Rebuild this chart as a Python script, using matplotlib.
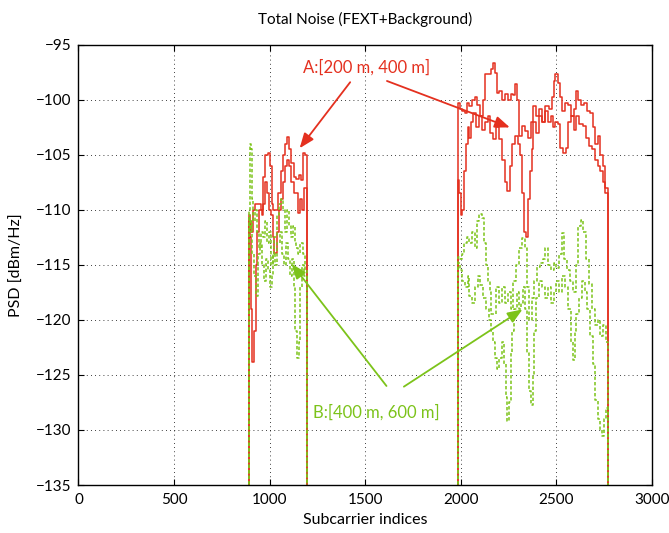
import matplotlib
matplotlib.use("Agg")
import matplotlib.pyplot as plt

plt.rcParams["font.family"] = ["Lato", "DejaVu Sans"]

# band edges (subcarrier indices)
band_edges = [(892, 1195), (1985, 2770)]

# A: [200 m, 400 m] -- two red curves per band
red_hi_b1_x = [892, 898, 905, 915, 925, 940, 955, 965, 975, 990, 1000, 1010, 1020, 1035, 1045,
               1060, 1070, 1080, 1090, 1100, 1110, 1125, 1140, 1155, 1165, 1175, 1185]
red_hi_b1_y = [-110.5, -111, -112, -110, -109.5, -109.5, -110, -107, -105, -104.8, -106, -109.5, -110,
               -110, -108.5, -106.5, -105, -104, -103.4, -104.5, -105.7, -107, -107.2, -106.8, -107.3,
               -104.8, -105]
red_lo_b1_x = [892, 897, 903, 910, 920, 928, 935, 945, 958, 965, 975, 985, 995, 1005, 1015, 1025,
               1038, 1048, 1058, 1068, 1080, 1090, 1100, 1110, 1125, 1140, 1150, 1160, 1170, 1180]
red_lo_b1_y = [-111, -112.5, -119, -123.8, -121, -115, -112, -110, -110.5, -109.5, -107.5, -108.5, -110,
               -110.5, -112.5, -113.9, -112, -110, -109, -107.5, -106, -105.5, -106, -107.5, -108.5,
               -108.5, -110.3, -109, -110, -108]
red_hi_b2_x = [1985, 1995, 2005, 2020, 2030, 2045, 2060, 2075, 2085, 2100, 2115, 2125, 2145, 2160, 2170,
               2180, 2190, 2200, 2215, 2230, 2245, 2260, 2275, 2285, 2295, 2305, 2320, 2335, 2350, 2365,
               2380, 2395, 2410, 2425, 2440, 2460, 2475, 2485, 2495, 2510, 2520, 2530, 2545, 2560, 2575,
               2590, 2600, 2615, 2630, 2645, 2660, 2675, 2690, 2700, 2715, 2730, 2745, 2755]
red_hi_b2_y = [-100.3, -100.8, -101, -101.2, -100.3, -100.6, -100, -99.7, -100.5, -101.5, -100, -97.7,
               -97.7, -97.2, -96.7, -97.6, -99.4, -99.2, -100, -99.5, -100, -99.5, -99.6, -98.6, -100,
               -103.3, -102.4, -102.8, -103.5, -102, -100.6, -101.5, -100.8, -102, -100.6, -100.8, -99.7,
               -98.3, -97.7, -98.5, -99.7, -101, -100.3, -100.5, -101.5, -100.8, -99.2, -100, -100.5,
               -100.3, -101, -101.2, -102.5, -104, -103.3, -105, -106, -108]
red_lo_b2_x = [1985, 1992, 2000, 2008, 2015, 2025, 2035, 2045, 2055, 2065, 2080, 2095, 2110, 2125, 2140,
               2155, 2170, 2185, 2200, 2215, 2230, 2242, 2255, 2270, 2285, 2300, 2310, 2320, 2330, 2340,
               2350, 2360, 2370, 2380, 2395, 2410, 2425, 2440, 2455, 2470, 2480, 2495, 2510, 2520, 2535,
               2550, 2560, 2575, 2590, 2605, 2620, 2640, 2655, 2670, 2685, 2700, 2715, 2730, 2745, 2755]
red_lo_b2_y = [-107.3, -108.5, -110.5, -110, -106.5, -104, -102.5, -103.5, -102, -101.2, -102.5, -101.5,
               -102.7, -102, -101.5, -103, -103.6, -102.5, -103.6, -105.5, -107.5, -108.3, -106, -104,
               -103.3, -104, -105, -108.5, -112, -112.5, -109, -106.5, -104.5, -102, -103, -101.5, -102,
               -101, -102, -101.5, -102.5, -102, -102.2, -104.4, -104.8, -104.4, -102, -101.5, -102.7,
               -101.5, -102.2, -102.4, -103.5, -104.2, -104.5, -105.5, -106, -106.5, -107.5, -108.5]

# B: [400 m, 600 m] -- two green curves per band
green_hi_b1_x = [892, 895, 902, 908, 915, 925, 935, 945, 955, 965, 975, 985, 995, 1005, 1015, 1025,
                 1040, 1050, 1060, 1070, 1080, 1090, 1100, 1110, 1120, 1130, 1140, 1150, 1160, 1175, 1185]
green_hi_b1_y = [-110, -104, -104.5, -109, -111, -110, -112, -113.5, -112, -112.5, -111, -113, -112,
                 -115, -114, -112.5, -110.5, -109.5, -109, -110, -112, -110, -111.5, -112.5, -111.5,
                 -113, -113.5, -114, -113, -114, -115.5]
green_lo_b1_x = [892, 897, 903, 910, 920, 930, 940, 950, 960, 970, 980, 990, 1000, 1010, 1020, 1030,
                 1040, 1055, 1065, 1075, 1085, 1095, 1105, 1115, 1125, 1135, 1145, 1152, 1160, 1170, 1180]
green_lo_b1_y = [-110.5, -112, -111, -114, -116, -117.8, -114, -113, -115, -116.5, -114.5, -115.5, -117,
                 -116, -114, -115, -113, -112, -114, -115, -113, -114.5, -116, -114.5, -117, -121,
                 -123.5, -122, -117, -115, -116]
green_hi_b2_x = [1985, 1995, 2005, 2015, 2030, 2045, 2060, 2075, 2085, 2095, 2110, 2120, 2130, 2140,
                 2150, 2160, 2170, 2185, 2200, 2215, 2230, 2245, 2260, 2275, 2290, 2305, 2320, 2335,
                 2345, 2355, 2370, 2385, 2400, 2415, 2430, 2440, 2455, 2470, 2485, 2500, 2515, 2528,
                 2540, 2555, 2570, 2585, 2600, 2615, 2627, 2640, 2655, 2670, 2685, 2700, 2715, 2730,
                 2745, 2760]
green_hi_b2_y = [-114.3, -114.5, -114, -113, -112.5, -113, -112, -113.5, -111, -110.4, -110.7, -113,
                 -115, -116.5, -117.5, -119.5, -119.5, -117, -118.5, -117, -118.5, -117.5, -119, -116.5,
                 -115, -113.5, -112.6, -113.5, -117, -120, -118, -116.5, -115.2, -114.8, -114.5, -113.5,
                 -115, -115.5, -114.8, -115.3, -114, -112.1, -114.5, -115.5, -116.5, -117.5, -115,
                 -111.5, -110.9, -112, -114.5, -116.7, -119, -120.5, -120, -121.5, -120.5, -122]
green_lo_b2_x = [1985, 1995, 2005, 2020, 2035, 2045, 2060, 2075, 2090, 2100, 2115, 2130, 2145, 2160,
                 2170, 2180, 2190, 2200, 2215, 2225, 2235, 2243, 2250, 2260, 2270, 2280, 2295, 2305,
                 2315, 2325, 2335, 2345, 2355, 2365, 2375, 2385, 2395, 2410, 2425, 2440, 2455, 2470,
                 2485, 2500, 2515, 2530, 2545, 2560, 2575, 2585, 2595, 2605, 2620, 2635, 2650, 2660,
                 2675, 2690, 2702, 2715, 2730, 2740, 2750, 2760]
green_lo_b2_y = [-114.8, -115.5, -116.5, -117, -116, -117.8, -118.5, -117, -116, -116.8, -118, -119,
                 -120, -121, -122, -123.5, -124.5, -123.5, -122, -124, -127, -129.2, -127.5, -123,
                 -121, -119, -117.5, -119, -118.5, -117, -119, -123, -126.5, -127.7, -125, -121, -118,
                 -116.5, -117, -118, -117, -118.5, -117.5, -116.5, -117.5, -116, -117, -119, -122,
                 -123.6, -121, -119.5, -118, -116.5, -117.5, -119, -121.5, -124, -127.3, -129, -130,
                 -130.5, -129, -128]

RED = "#e4301f"
GREEN = "#7cc31a"
FLOOR = -300.0


def band_trace(xs, ys, x_end):
    # step trace that rises from the floor at the band start and drops at its end
    tx = [xs[0]] + list(xs) + [x_end, x_end]
    ty = [FLOOR] + list(ys) + [ys[-1], FLOOR]
    return tx, ty


fig = plt.figure(figsize=(6.69, 5.33), dpi=100)
ax = fig.add_axes([0.1173, 0.090, 0.8573, 0.826])

red_series = [
    (red_hi_b1_x, red_hi_b1_y, band_edges[0][1]),
    (red_lo_b1_x, red_lo_b1_y, band_edges[0][1]),
    (red_hi_b2_x, red_hi_b2_y, band_edges[1][1]),
    (red_lo_b2_x, red_lo_b2_y, band_edges[1][1]),
]
green_series = [
    (green_hi_b1_x, green_hi_b1_y, band_edges[0][1]),
    (green_lo_b1_x, green_lo_b1_y, band_edges[0][1]),
    (green_hi_b2_x, green_hi_b2_y, band_edges[1][1]),
    (green_lo_b2_x, green_lo_b2_y, band_edges[1][1]),
]
for xs, ys, x_end in red_series:
    tx, ty = band_trace(xs, ys, x_end)
    ax.plot(tx, ty, color=RED, lw=1.1, drawstyle="steps-post")
for xs, ys, x_end in green_series:
    tx, ty = band_trace(xs, ys, x_end)
    ax.plot(tx, ty, color=GREEN, lw=1.1, ls=(0, (2.2, 1.4)), drawstyle="steps-post")

ax.set_xlim(0, 3000)
ax.set_ylim(-135, -95)
ax.set_xticks(range(0, 3001, 500))
ax.set_yticks(range(-135, -94, 5))
ax.grid(True, color="black", ls=(0, (1, 4)), lw=0.6)
ax.tick_params(direction="in", length=4, width=0.8, labelsize=11, top=True, right=True,
               labeltop=False, labelright=False)
ax.tick_params(axis="x", pad=6)
ax.tick_params(axis="y", pad=5)
for s in ax.spines.values():
    s.set_linewidth(1.0)

ax.set_title("Total Noise (FEXT+Background)", fontsize=11, pad=15)
ax.set_xlabel("Subcarrier indices", fontsize=11.5, labelpad=4)
ax.set_ylabel("PSD [dBm/Hz]", fontsize=11.5, labelpad=9)

# annotations
ax.text(1509, -97.1, "A:[200 m, 400 m]", color=RED, fontsize=12, ha="center", va="center")
arrow_red = dict(arrowstyle="-|>,head_length=0.9,head_width=0.35", color=RED, lw=1.3)
ax.annotate("", xy=(1148, -104.6), xytext=(1430, -98.2), arrowprops=arrow_red)
ax.annotate("", xy=(2270, -102.6), xytext=(1600, -98.2), arrowprops=arrow_red)

ax.text(1560, -128.4, "B:[400 m, 600 m]", color=GREEN, fontsize=12, ha="center", va="center")
arrow_green = dict(arrowstyle="-|>,head_length=0.9,head_width=0.35", color=GREEN, lw=1.3)
ax.annotate("", xy=(1106, -114.7), xytext=(1620, -126.2), arrowprops=arrow_green)
ax.annotate("", xy=(2335, -118.9), xytext=(1690, -126.2), arrowprops=arrow_green)

fig.savefig("out.png", dpi=100)
